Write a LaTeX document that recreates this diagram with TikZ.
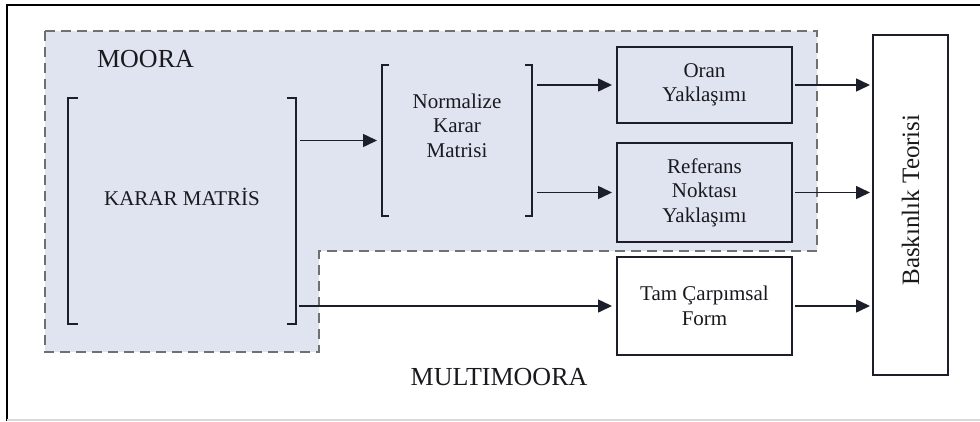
\documentclass[tikz,border=0pt]{standalone}
\usepackage{fontspec}
\setmainfont{Liberation Serif}
\usetikzlibrary{arrows.meta}
\definecolor{regionfill}{RGB}{223,228,240}
\definecolor{dashgray}{RGB}{112,112,112}
\definecolor{ink}{RGB}{28,30,42}
\definecolor{txtc}{RGB}{26,26,30}
\tikzset{
  stdfont/.style={font=\fontsize{21}{24.5}\selectfont, text=txtc, align=center},
  bigfont/.style={font=\fontsize{26}{30}\selectfont, text=txtc},
  frame/.style={inner sep=0pt, outer sep=0pt},
  brk/.style={draw=ink, line width=1.5pt},
  boxed/.style={draw=ink, line width=2.3pt, inner sep=0pt, outer sep=0pt, stdfont},
  arr/.style={draw=ink, line width=1.5pt, -{Triangle[length=14pt,width=13pt]}},
}
\begin{document}
\begin{tikzpicture}[x=1pt, y=-1pt]
\useasboundingbox (0,0) rectangle (980,421);
% outer frame
\draw[black, line width=2.5pt] (7,421) -- (7,5) -- (980,5);
\draw[black!15, line width=1.5pt] (7,420) -- (980,420);
% MOORA region
\filldraw[fill=regionfill, draw=dashgray, line width=2.8pt, dash pattern=on 10pt off 6pt]
  (45,31) -- (817,31) -- (817,251) -- (319,251) -- (319,352) -- (45,352) -- cycle;
\node[bigfont] (moora) at (145.5,59) {MOORA};
\node[bigfont] (multi) at (499,377.5) {MULTIMOORA};
% Karar matris bracket
\node[frame, minimum width=228pt, minimum height=226pt] (karar) at (182,211) {};
\draw[brk] ([xshift=10pt]karar.north west) -- (karar.north west) -- (karar.south west) -- ++(10,0);
\draw[brk] ([xshift=-9pt]karar.north east) -- (karar.north east) -- (karar.south east) -- ++(-9,0);
\node[stdfont] (karartxt) at (182,197) {KARAR MATRİS};
% Normalize bracket
\node[frame, minimum width=150pt, minimum height=151pt] (norm) at (457,140.5) {};
\draw[brk] ([xshift=7pt]norm.north west) -- (norm.north west) -- (norm.south west) -- ++(7,0);
\draw[brk] ([xshift=-7pt]norm.north east) -- (norm.north east) -- (norm.south east) -- ++(-7,0);
\node[stdfont] (normtxt) at (457,125.5) {Normalize\\Karar\\Matrisi};
% boxes
\node[boxed, minimum width=175pt, minimum height=76pt] (oran) at (704.5,85) {Oran\\Yaklaşımı};
\node[boxed, minimum width=175pt, minimum height=99pt] (ref) at (704.5,192.5) {Referans\\Noktası\\Yaklaşımı};
\node[boxed, fill=white, minimum width=175pt, minimum height=98pt] (tam) at (704.5,306) {Tam Çarpımsal\\Form};
\node[draw=ink, line width=1.8pt, inner sep=0pt, outer sep=0pt, minimum width=75pt, minimum height=340pt] (bask) at (910.5,205) {};
\node[rotate=90, font=\fontsize{25}{29}\selectfont, text=txtc] (basktxt) at (910.5,200) {Baskınlık Teorisi};
% connectors
\draw[arr, shorten <=4pt, shorten >=5pt] (karar.east |- norm.west) -- (norm.west);
\draw[arr, shorten <=5pt, shorten >=5pt] (norm.east |- oran.west) -- (oran.west);
\draw[arr, shorten <=5pt, shorten >=5pt] (norm.east |- ref.west) -- (ref.west);
\draw[arr, shorten <=3pt, shorten >=5pt] (karar.east |- tam.west) -- (tam.west);
\draw[arr, shorten <=3pt, shorten >=3pt] (oran.east) -- (oran.east -| bask.west);
\draw[arr, shorten <=3pt, shorten >=3pt] (ref.east) -- (ref.east -| bask.west);
\draw[arr, shorten <=3pt, shorten >=3pt] (tam.east) -- (tam.east -| bask.west);
\end{tikzpicture}
\end{document}
